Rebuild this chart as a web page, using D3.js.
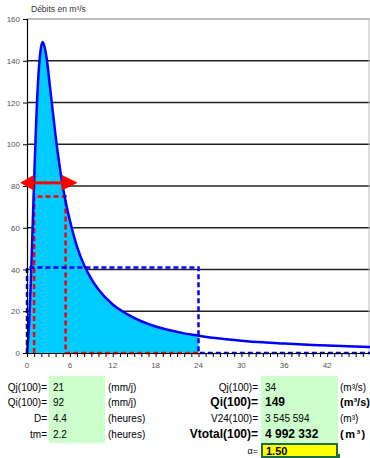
<!DOCTYPE html>
<html>
<head>
<meta charset="utf-8">
<script src="https://cdn.jsdelivr.net/npm/d3@7"></script>
<style>
  body { margin: 0; background: #fff; }
  svg { display: block; font-family: 'Liberation Sans', Arial, sans-serif; }
</style>
</head>
<body>
<svg id="hydro-svg"></svg>
<script>
// hydrogramme (heures / m3/s)
const hours  = [0, 0.3, 0.5, 0.7, 1.0, 1.3, 1.6, 1.9, 2.2, 2.5, 2.8, 3.2, 3.6, 4.0, 4.5, 5.0, 5.5, 6.25, 7, 8, 9, 10, 12, 14, 16, 18, 20, 22, 24, 27, 30, 33, 36, 40, 44, 48]
const debits = [0, 14, 31, 51, 83, 112, 133, 145, 149, 146, 140, 128, 116, 104, 91, 80, 71, 60, 51, 42, 35.5, 30.4, 23.2, 18.6, 15.2, 12.7, 10.9, 9.4, 8.3, 6.9, 5.9, 5.1, 4.5, 3.8, 3.3, 2.9]
const fillUntil = 24

const yTicks = [0, 20, 40, 60, 80, 100, 120, 140, 160]
const xTicks = [0, 6, 12, 18, 24, 30, 36, 42]

// rectangles en pointillés
const redDash  = [[1.0, 0], [1.0, 75], [5.4, 75], [5.4, 0], [24, 0]]
const blueDash = [[0, 0], [0, 41], [24, 41], [24, 0], [48, 0]]
const arrowLevel = 81.5
const arrowFrom = 1.0
const arrowTo = 5.4

// tableau sous le graphique
const leftLabels  = ['Qj(100)=', 'Qi(100)=', 'D=', 'tm=']
const leftValues  = ['21', '92', '4.4', '2.2']
const leftUnits   = ['(mm/j)', '(mm/j)', '(heures)', '(heures)']
const rightLabels = ['Qj(100)=', 'Qi(100)=', 'V24(100)=', 'Vtotal(100)=']
const rightValues = ['34', '149', '3 545 594', '4 992 332']
const rightUnits  = ['(m³/s)', '(m³/s)', '(m³)', '(m³)']
const rightBold   = [false, true, false, true]
const alphaValue  = '1.50'

const width = 370, height = 458
const margin = {left: 27, right: 0, top: 19, bottom: 105}

const svg = d3.select('#hydro-svg')
    .attr('width', width)
    .attr('height', height)

const x = d3.scaleLinear().domain([0, 48]).range([margin.left, width])
const y = d3.scaleLinear().domain([0, 160]).range([height - margin.bottom, margin.top])

// titre
svg.append('text')
    .attr('x', 31).attr('y', 12)
    .attr('font-size', '8.5px')
    .attr('fill', '#333')
    .text('Débits en m³/s')

// grille
svg.append('g')
    .selectAll('line')
    .data(yTicks.filter(d => d > 0))
    .join('line')
    .attr('x1', margin.left).attr('x2', width)
    .attr('y1', d => y(d)).attr('y2', d => y(d))
    .attr('stroke', d => d === 160 ? '#aaa' : '#222')
    .attr('stroke-width', 1.3)

svg.append('line')
    .attr('x1', width - 1).attr('x2', width - 1)
    .attr('y1', y(160)).attr('y2', y(0))
    .attr('stroke', '#bbb')

// surface remplie jusqu'à 24 h
const pts = hours.map((h, i) => [h, debits[i]])
const area = d3.area()
    .x(d => x(d[0]))
    .y0(y(0))
    .y1(d => y(d[1]))
    .curve(d3.curveMonotoneX)
svg.append('path')
    .datum(pts.filter(d => d[0] <= fillUntil))
    .attr('d', area)
    .attr('fill', '#00ccff')

const line = d3.line().x(d => x(d[0])).y(d => y(d[1]))

svg.append('path')
    .datum(redDash)
    .attr('d', line)
    .attr('fill', 'none')
    .attr('stroke', '#ff0000')
    .attr('stroke-width', 2.5)
    .attr('stroke-dasharray', '5,3')

svg.append('path')
    .datum(blueDash)
    .attr('d', line)
    .attr('fill', 'none')
    .attr('stroke', '#0000ff')
    .attr('stroke-width', 2.5)
    .attr('stroke-dasharray', '5,3')

// courbe
svg.append('path')
    .datum(pts)
    .attr('d', d3.line().x(d => x(d[0])).y(d => y(d[1])).curve(d3.curveMonotoneX))
    .attr('fill', 'none')
    .attr('stroke', '#0000ff')
    .attr('stroke-width', 2.5)

// axes
const yAxis = svg.append('g')
    .attr('transform', 'translate(' + margin.left + ',0)')
    .call(d3.axisLeft(y).tickValues(yTicks).tickSize(4).tickPadding(3))
yAxis.select('.domain').attr('stroke', '#000').attr('stroke-width', 1.2)
yAxis.selectAll('text').attr('font-size', '8px').attr('fill', '#555').attr('font-family', 'Liberation Sans, Arial')

const xAxis = svg.append('g')
    .attr('transform', 'translate(0,' + y(0) + ')')
    .call(d3.axisBottom(x).tickValues(d3.range(0, 48, 1)).tickSize(4).tickFormat(''))
xAxis.select('.domain').attr('stroke', '#000').attr('stroke-width', 1.2)

svg.append('g')
    .selectAll('text')
    .data(xTicks)
    .join('text')
    .attr('x', d => x(d))
    .attr('y', y(0) + 15)
    .attr('text-anchor', 'middle')
    .attr('font-size', '8px')
    .attr('fill', '#555')
    .text(d => d)

// flèche rouge (durée D)
const ay = y(arrowLevel)
svg.append('line')
    .attr('x1', x(arrowFrom)).attr('x2', x(arrowTo))
    .attr('y1', ay).attr('y2', ay)
    .attr('stroke', '#ff0000').attr('stroke-width', 3)
svg.append('path')
    .attr('d', `M${x(arrowFrom) - 14},${ay} L${x(arrowFrom)},${ay - 8} L${x(arrowFrom)},${ay + 8} Z`)
    .attr('fill', '#ff0000')
svg.append('path')
    .attr('d', `M${x(arrowTo) + 12},${ay} L${x(arrowTo) - 4},${ay - 8} L${x(arrowTo) - 4},${ay + 8} Z`)
    .attr('fill', '#ff0000')

// tableau
const rowY = [391, 406, 422, 438]
svg.append('rect').attr('x', 49).attr('y', 376).attr('width', 56).attr('height', 67).attr('fill', '#ccffcc')
svg.append('rect').attr('x', 261).attr('y', 376).attr('width', 77).attr('height', 67).attr('fill', '#ccffcc')

const left = svg.append('g').attr('font-size', '10px').attr('fill', '#000')
left.selectAll('.lab').data(leftLabels).join('text')
    .attr('x', 47).attr('y', (d, i) => rowY[i]).attr('text-anchor', 'end').text(d => d)
left.selectAll('.val').data(leftValues).join('text')
    .attr('x', 53).attr('y', (d, i) => rowY[i]).text(d => d)
left.selectAll('.unit').data(leftUnits).join('text')
    .attr('x', 108).attr('y', (d, i) => rowY[i]).text(d => d)

const fs = (d, i) => rightBold[i] ? '12px' : '10px'
const fw = (d, i) => rightBold[i] ? 'bold' : 'normal'
const right = svg.append('g').attr('fill', '#000')
right.selectAll('.lab').data(rightLabels).join('text')
    .attr('x', 258).attr('y', (d, i) => rowY[i]).attr('text-anchor', 'end')
    .attr('font-weight', fw).attr('font-size', fs)
    .text(d => d)
right.selectAll('.val').data(rightValues).join('text')
    .attr('x', 265).attr('y', (d, i) => rowY[i])
    .attr('font-weight', fw).attr('font-size', fs)
    .text(d => d)
right.selectAll('.unit').data(rightUnits).join('text')
    .attr('x', 340).attr('y', (d, i) => rowY[i])
    .attr('font-weight', fw).attr('font-size', (d, i) => rightBold[i] ? '11px' : '10px')
    .attr('letter-spacing', (d, i) => rightBold[i] && d === '(m³)' ? '1.5px' : '0')
    .text(d => d)

// alpha
svg.append('text').attr('x', 258).attr('y', 454).attr('text-anchor', 'end')
    .attr('font-size', '9px').text('α=')
svg.append('rect').attr('x', 262).attr('y', 444).attr('width', 75).attr('height', 13)
    .attr('fill', '#ffff00').attr('stroke', '#1f6b45').attr('stroke-width', 2)
svg.append('rect').attr('x', 336).attr('y', 454).attr('width', 4).attr('height', 4).attr('fill', '#1f6b45')
svg.append('text').attr('x', 266).attr('y', 455).attr('font-size', '11px').attr('font-weight', 'bold')
    .text(alphaValue)
</script>
</body>
</html>
